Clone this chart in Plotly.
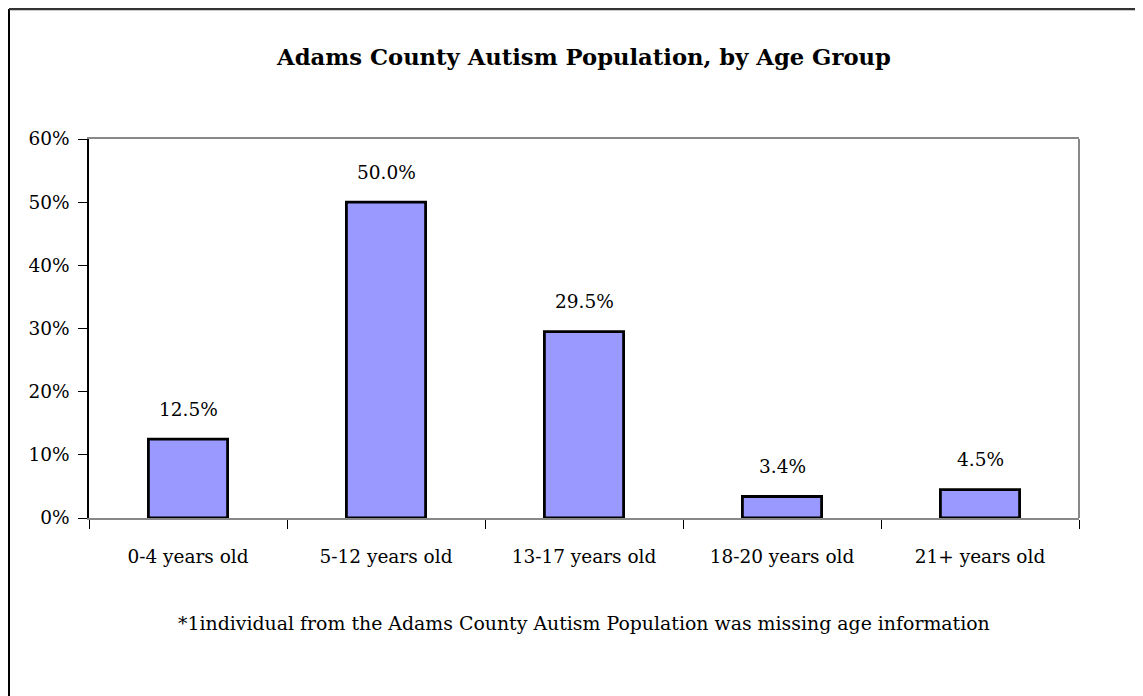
import plotly.graph_objects as go

categories = ["0-4 years old", "5-12 years old", "13-17 years old", "18-20 years old", "21+ years old"]
values = [12.5, 50.0, 29.5, 3.4, 4.5]
y_ticks = [0, 10, 20, 30, 40, 50, 60]
y_tick_labels = ["0%", "10%", "20%", "30%", "40%", "50%", "60%"]
title_text = "Adams County Autism Population, by Age Group"
footnote = "*1individual from the Adams County Autism Population was missing age information"

FONT = "DejaVu Serif, Palatino Linotype, Book Antiqua, Palatino, serif"

W, H = 1135, 688
L, R, T, B = 81, 64, 131, 178
PW = W - L - R
PH = H - T - B

fig = go.Figure()
fig.add_trace(go.Bar(
    x=categories, y=values, width=0.40,
    marker=dict(color="#9999FF", line=dict(color="black", width=2.8)),
    hoverinfo="x+y",
))

annotations = []
for c, v in zip(categories, values):
    annotations.append(dict(x=c, y=v, xref="x", yref="y", text=f"{v:.1f}%",
                            showarrow=False, yshift=30,
                            font=dict(size=18.5, color="black", family=FONT)))
annotations.append(dict(x=0.5, y=-0.277, xref="paper", yref="paper", text=footnote,
                        showarrow=False, yanchor="middle",
                        font=dict(size=18.9, color="black", family=FONT)))

fig.update_layout(
    width=W, height=H,
    margin=dict(l=L, r=R, t=T, b=B),
    paper_bgcolor="white", plot_bgcolor="white",
    font=dict(family=FONT, size=18.5, color="black"),
    title=dict(text="<b>" + title_text + "</b>", x=0.5, xref="paper", xanchor="center",
               y=1 - 49 / H, yref="container", yanchor="middle",
               font=dict(size=22.7, color="black", family=FONT)),
    showlegend=False,
    annotations=annotations,
    shapes=[
        dict(type="line", xref="paper", yref="paper", x0=1, x1=1, y0=0, y1=1,
             line=dict(color="#888888", width=2)),
        dict(type="line", xref="paper", yref="paper", x0=-(L - 1) / PW, x1=-(L - 1) / PW,
             y0=-2, y1=1 + (T - 1) / PH,
             line=dict(color="black", width=2)),
        dict(type="line", xref="paper", yref="paper", x0=-(L - 1) / PW, x1=2,
             y0=1 + (T - 1) / PH, y1=1 + (T - 1) / PH,
             line=dict(color="#333333", width=2.5)),
    ],
)

fig.update_xaxes(
    showline=True, linecolor="#888888", linewidth=2, mirror=True,
    ticks="outside", ticklen=9, tickcolor="black", tickwidth=1.3,
    tickson="boundaries", ticklabelstandoff=21,
    showgrid=False, tickfont=dict(size=18.5, color="black", family=FONT),
)
fig.update_yaxes(
    range=[0, 60], tickvals=y_ticks, ticktext=y_tick_labels,
    showline=True, linecolor="black", linewidth=1.5,
    ticks="outside", ticklen=9, tickcolor="black", tickwidth=1.3,
    ticklabelstandoff=5,
    showgrid=False, zeroline=False, tickfont=dict(size=18.5, color="black", family=FONT),
)

fig.write_html("out.html")
